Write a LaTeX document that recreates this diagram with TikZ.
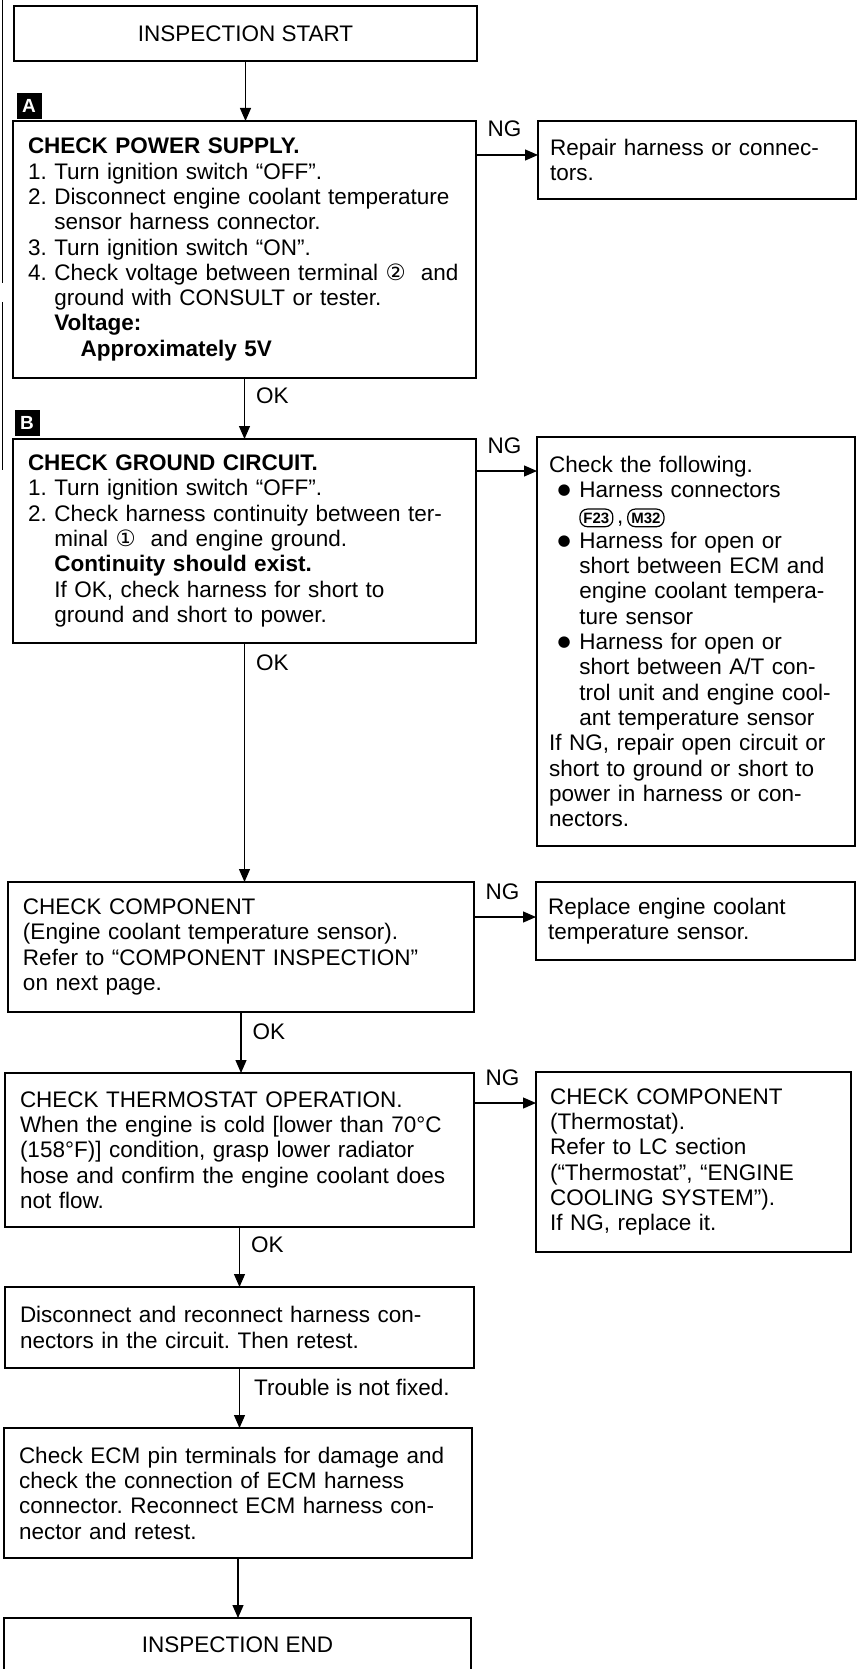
\documentclass[tikz,border=0pt]{standalone}
\usepackage{fontspec}
\setmainfont{Liberation Sans}
\newfontfamily\dejavu{DejaVu Sans}
\usetikzlibrary{arrows.meta}

\newcommand\flowfont{\fontsize{22.5}{25.3}\selectfont\frenchspacing}
\newcommand\circnum[1]{{\dejavu #1}}
\newcommand\conn[1]{\tikz[baseline=(p.base)]\node[pill] (p) {#1};}
\newcommand\itm{\makebox[1.35em]{\raisebox{3pt}{\fontsize{15}{15}\dejavu ●}}}
\newcommand\indt{\hspace*{1.35em}}

\begin{document}
\begin{tikzpicture}[x=1pt, y=-1pt, >={Triangle[length=13pt,width=11pt]}, line width=1.2pt,
  box/.style={draw, line width=1.7pt, anchor=north west, align=left, inner xsep=15pt, inner ysep=0pt, outer sep=0pt, font=\flowfont},
  tag/.style={fill=black, text=white, anchor=north west, minimum width=25pt, minimum height=26pt, inner sep=0pt, font=\bfseries\fontsize{19}{19}\selectfont},
  lbl/.style={anchor=base west, inner sep=0pt, font=\flowfont},
  pill/.style={draw, rounded corners=7.5pt, line width=1.2pt, inner xsep=3.5pt, inner ysep=3.5pt, minimum width=0pt, minimum height=0pt, text width=, align=center, font=\bfseries\fontsize{15}{15}\selectfont}]
\useasboundingbox (0,0) rectangle (857,1669);
\clip (0,0) rectangle (857,1669);

% margin lines from the page
\draw[line width=1pt] (2,0) -- (2,283);
\draw[line width=1pt] (2,302) -- (2,470);

\node[box, align=center, minimum width=463pt, minimum height=55pt] (s) at (14,6) {INSPECTION START};

\node[tag] (ta) at (16,92) {A};
\node[box, text width=433pt, minimum width=463pt, minimum height=257pt] (a) at (13,121) {\textbf{CHECK POWER SUPPLY.}\\
1. Turn ignition switch “OFF”.\\
2. Disconnect engine coolant temperature\\
\phantom{2. }sensor harness connector.\\
3. Turn ignition switch “ON”.\\
\mbox{4. Check voltage between terminal \circnum{②}\ \ and}\\
\phantom{4. }ground with CONSULT or tester.\\
\phantom{4. }\textbf{Voltage:}\\
\phantom{4. 4. }\textbf{Approximately 5V}};
\node[box, inner xsep=12pt, text width=294pt, minimum width=318pt, minimum height=78pt] (a2) at (538,121) {Repair harness or connec-\\tors.};

\node[tag] (tb) at (14,409) {B};
\node[box, text width=433pt, minimum width=463pt, minimum height=204pt] (b) at (13,439) {\textbf{CHECK GROUND CIRCUIT.}\\
1. Turn ignition switch “OFF”.\\
2. Check harness continuity between ter-\\
\phantom{2. }minal \circnum{①}\ \ and engine ground.\\
\phantom{2. }\textbf{Continuity should exist.}\\
\phantom{2. }If OK, check harness for short to\\
\phantom{2. }ground and short to power.};
\node[box, inner xsep=12pt, text width=294pt, minimum width=318pt, minimum height=409pt] (b2) at (537,437) {Check the following.\\
\itm Harness connectors\\
\indt\conn{F23}\,,\,\conn{M32}\\
\itm Harness for open or\\
\indt short between ECM and\\
\indt engine coolant tempera-\\
\indt ture sensor\\
\itm Harness for open or\\
\indt short between A/T con-\\
\indt trol unit and engine cool-\\
\indt ant temperature sensor\\
If NG, repair open circuit or\\
short to ground or short to\\
power in harness or con-\\
nectors.};

\node[box, text width=436pt, minimum width=466pt, minimum height=130pt] (c) at (8,882) {CHECK COMPONENT\\
(Engine coolant temperature sensor).\\
Refer to “COMPONENT INSPECTION”\\
on next page.};
\node[box, inner xsep=12pt, text width=295pt, minimum width=319pt, minimum height=78pt] (c2) at (536,882) {Replace engine coolant\\temperature sensor.};

\node[box, text width=439pt, minimum width=469pt, minimum height=154pt] (d) at (5,1073) {CHECK THERMOSTAT OPERATION.\\
When the engine is cold [lower than 70°C\\
(158°F)] condition, grasp lower radiator\\
hose and confirm the engine coolant does\\
not flow.};
\node[box, inner xsep=14pt, text width=287pt, minimum width=315pt, minimum height=180pt] (d2) at (536,1072) {CHECK COMPONENT\\
(Thermostat).\\
Refer to LC section\\
(“Thermostat”, “ENGINE\\
COOLING SYSTEM”).\\
If NG, replace it.};

\node[box, text width=439pt, minimum width=469pt, minimum height=81pt] (e) at (5,1287) {Disconnect and reconnect harness con-\\
nectors in the circuit. Then retest.};

\node[box, text width=438pt, minimum width=468pt, minimum height=130pt] (f) at (4,1428) {Check ECM pin terminals for damage and\\
check the connection of ECM harness\\
connector. Reconnect ECM harness con-\\
nector and retest.};

\node[box, align=center, minimum width=467pt, minimum height=54pt] (g) at (4,1618) {INSPECTION END};

% down the main line
\draw[->] (s.south) -- (s.south |- a.north);
\draw[->] (a.south) -- (a.south |- b.north) node[lbl, pos=0, xshift=11pt, yshift=-25pt] (ok1) {OK};
\draw[->] (b.south) -- (b.south |- c.north) node[lbl, pos=0, xshift=11pt, yshift=-27pt] (ok2) {OK};
\draw[->] (c.south) -- (c.south |- d.north) node[lbl, pos=0, xshift=11pt, yshift=-27pt] (ok3) {OK};
\draw[->] (d.south) -- (d.south |- e.north) node[lbl, pos=0, xshift=11pt, yshift=-25pt] (ok4) {OK};
\draw[->] (e.south) -- (e.south |- f.north) node[lbl, pos=0, xshift=14pt, yshift=-27pt] (tr) {Trouble is not fixed.};
\draw[->] (f.south) -- (f.south |- g.north);

% NG branches
\draw[->] ([yshift=-34pt]a.north east) coordinate (pa) -- (pa -| a2.west) node[lbl, pos=0, xshift=11pt, yshift=18pt] (ng1) {NG};
\draw[->] ([yshift=-32pt]b.north east) coordinate (pb) -- (pb -| b2.west) node[lbl, pos=0, xshift=11pt, yshift=18pt] (ng2) {NG};
\draw[->] ([yshift=-35pt]c.north east) coordinate (pc) -- (pc -| c2.west) node[lbl, pos=0, xshift=11pt, yshift=18pt] (ng3) {NG};
\draw[->] ([yshift=-30pt]d.north east) coordinate (pd) -- (pd -| d2.west) node[lbl, pos=0, xshift=11pt, yshift=18pt] (ng4) {NG};
\end{tikzpicture}
\end{document}
